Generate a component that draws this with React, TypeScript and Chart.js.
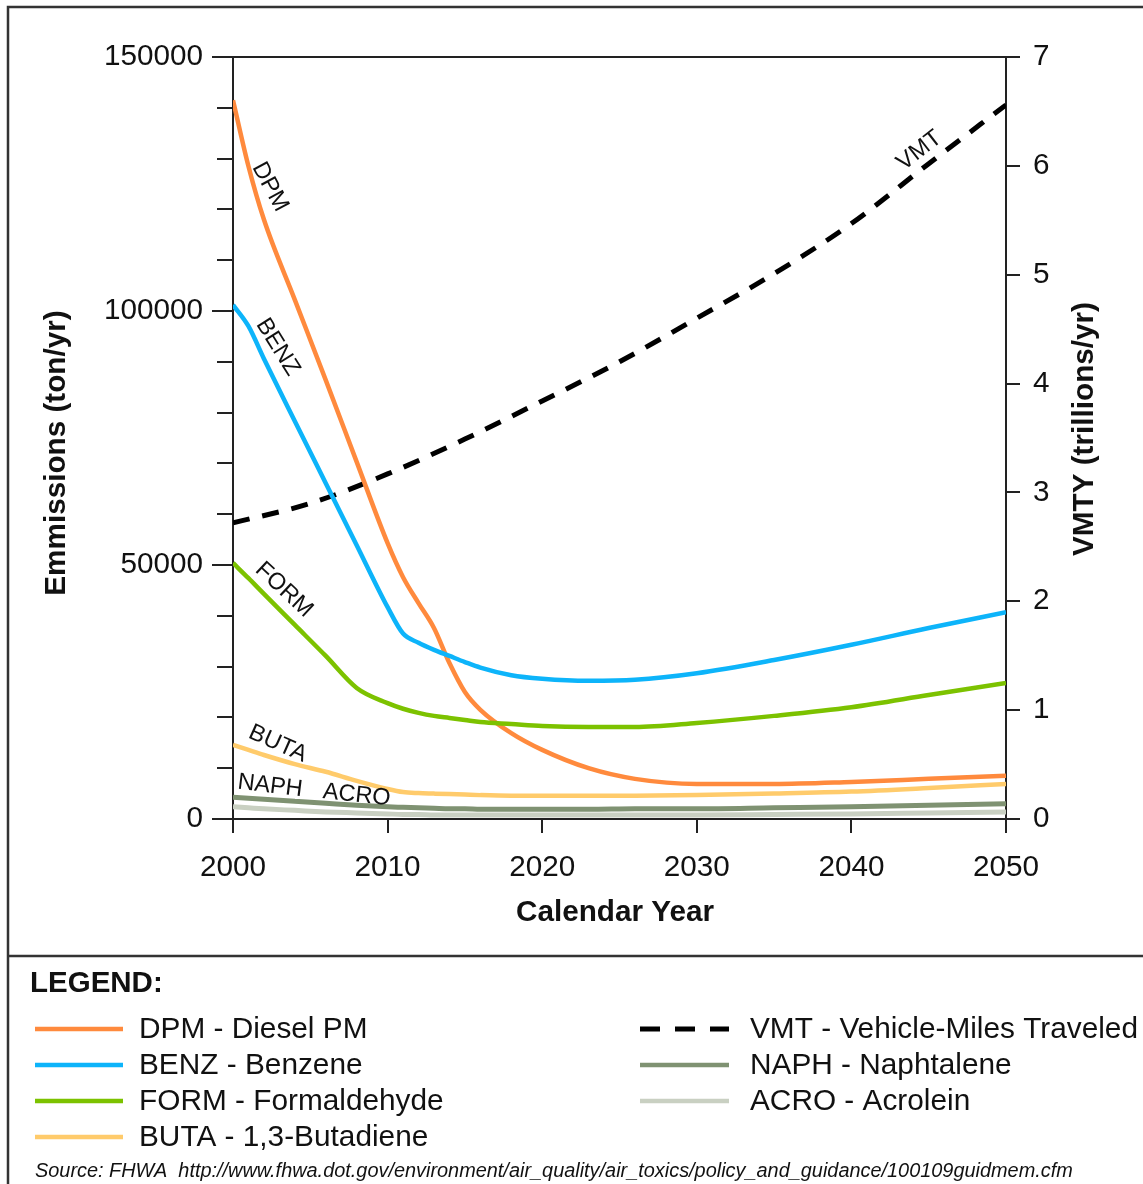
import React, { useEffect, useRef } from 'react';
import { Chart, registerables } from 'chart.js';

Chart.register(...registerables);

// ---------- DATA ----------
const years = [2000, 2001, 2002, 2004, 2006, 2008, 2010, 2011, 2012, 2013, 2014, 2015, 2016, 2018, 2020, 2023, 2026, 2030, 2035, 2040, 2045, 2050];

const dpm = [141500, 128500, 118000, 102200, 86400, 70300, 54300, 47600, 42500, 37600, 30700, 25000, 21500, 16900, 13600, 10000, 7900, 6900, 6900, 7300, 7900, 8500];
const benz = [101200, 97000, 90600, 78300, 66100, 53900, 41700, 36500, 34700, 33300, 32100, 30900, 29800, 28300, 27600, 27200, 27400, 28700, 31300, 34300, 37600, 40700];
const form = [50400, 47400, 44300, 38200, 32100, 25800, 22800, 21700, 20900, 20300, 19900, 19500, 19100, 18700, 18300, 18100, 18100, 18900, 20300, 22000, 24400, 26800];
const buta = [14600, 13600, 12600, 10800, 9300, 7500, 5900, 5300, 5100, 5000, 4900, 4800, 4700, 4600, 4600, 4600, 4600, 4700, 5000, 5400, 6100, 6900];
const naph = [4300, 4100, 3900, 3500, 3100, 2700, 2400, 2300, 2200, 2100, 2000, 2000, 1900, 1900, 1900, 1900, 2000, 2000, 2200, 2400, 2700, 3000];
const acro = [2400, 2200, 2000, 1700, 1400, 1200, 1000, 900, 900, 800, 800, 800, 800, 800, 800, 800, 800, 800, 900, 1000, 1200, 1400];

const vmtYears = [2000, 2005, 2010, 2015, 2020, 2025, 2030, 2035, 2040, 2045, 2050];
const vmt = [2.72, 2.9, 3.17, 3.49, 3.84, 4.2, 4.6, 5.01, 5.47, 6.02, 6.56];

const xTicks = [2000, 2010, 2020, 2030, 2040, 2050];
const leftMajorTicks = [0, 50000, 100000, 150000];

const seriesCodes = ['DPM', 'BENZ', 'FORM', 'BUTA', 'NAPH', 'ACRO', 'VMT'];
const seriesNames = ['Diesel PM', 'Benzene', 'Formaldehyde', '1,3-Butadiene', 'Naphtalene', 'Acrolein', 'Vehicle-Miles Traveled'];
const seriesColors = ['#FF8A3D', '#0DB4FA', '#7CC200', '#FFCB6B', '#7F9272', '#C9D0C2', '#000000'];

// in-plot label anchors (data units) and angles (deg)
const labelYears = [2002.4, 2002.9, 2003.3, 2002.9, 2002.4, 2008.0, 2044.4];
const labelValues = [124400, 92900, 45100, 14800, 6500, 4700, 6.14];
const labelAngles = [62, 58, 43, 24, 7, 6, -38];

const xTitle = 'Calendar Year';
const yTitle = 'Emmissions (ton/yr)';
const y2Title = 'VMTY (trillions/yr)';
const legendTitle = 'LEGEND:';
const sourceText = 'Source: FHWA  http://www.fhwa.dot.gov/environment/air_quality/air_toxics/policy_and_guidance/100109guidmem.cfm';

const FONT = '"Liberation Sans", Arial, Helvetica, sans-serif';

const decorPlugin = {
  id: 'decor',
  afterDraw(chart: any) {
    const ctx = chart.ctx as CanvasRenderingContext2D;
    const { left, right, top, bottom } = chart.chartArea;
    const ys = chart.scales.y;
    const ys2 = chart.scales.y2;
    const xs = chart.scales.x;
    ctx.save();
    // outer frame
    ctx.strokeStyle = '#333';
    ctx.lineWidth = 2.5;
    ctx.beginPath();
    ctx.moveTo(1143, 7);
    ctx.lineTo(8, 7);
    ctx.lineTo(8, 1184);
    ctx.moveTo(8, 956);
    ctx.lineTo(1143, 956);
    ctx.stroke();

    // top and bottom extended lines, major ticks
    ctx.strokeStyle = '#222';
    ctx.lineWidth = 2;
    ctx.beginPath();
    ctx.moveTo(left - 21, top);
    ctx.lineTo(right + 14, top);
    ctx.moveTo(left - 21, bottom);
    ctx.lineTo(right + 14, bottom);
    leftMajorTicks.forEach((v) => {
      const y = ys.getPixelForValue(v);
      ctx.moveTo(left - 21, y);
      ctx.lineTo(left, y);
    });
    ctx.stroke();

    // axis titles
    ctx.fillStyle = '#111';
    ctx.font = `bold 29.7px ${FONT}`;
    ctx.textAlign = 'center';
    ctx.textBaseline = 'middle';
    ctx.fillText(xTitle, 615, 913);
    ctx.save();
    ctx.translate(57, 453);
    ctx.rotate(-Math.PI / 2);
    ctx.fillText(yTitle, 0, 0);
    ctx.restore();
    ctx.save();
    ctx.translate(1085, 429);
    ctx.rotate(-Math.PI / 2);
    ctx.fillText(y2Title, 0, 0);
    ctx.restore();

    // in-plot labels
    ctx.font = `23.5px ${FONT}`;
    seriesCodes.forEach((code, i) => {
      const px = xs.getPixelForValue(labelYears[i]);
      const py = code === 'VMT' ? ys2.getPixelForValue(labelValues[i]) : ys.getPixelForValue(labelValues[i]);
      ctx.save();
      ctx.translate(px, py);
      ctx.rotate((labelAngles[i] * Math.PI) / 180);
      ctx.fillText(code, 0, 0);
      ctx.restore();
    });

    // legend
    ctx.textAlign = 'left';
    ctx.font = `bold 29.5px ${FONT}`;
    ctx.fillText(legendTitle, 30, 984);
    ctx.font = `29.8px ${FONT}`;
    const leftCol = [0, 1, 2, 3];
    const rightCol = [6, 4, 5];
    const rowY = [1029, 1065, 1101, 1137];
    const drawEntry = (i: number, lx1: number, lx2: number, tx: number, y: number) => {
      ctx.save();
      ctx.strokeStyle = seriesColors[i];
      ctx.lineWidth = i === 6 ? 5 : 4.5;
      if (i === 6) ctx.setLineDash([20, 15]);
      ctx.beginPath();
      ctx.moveTo(lx1, y);
      ctx.lineTo(lx2, y);
      ctx.stroke();
      ctx.restore();
      ctx.fillText(`${seriesCodes[i]} - ${seriesNames[i]}`, tx, y + 1);
    };
    leftCol.forEach((i, r) => drawEntry(i, 35, 123, 139, rowY[r]));
    rightCol.forEach((i, r) => drawEntry(i, 640, 729, 750, rowY[r]));

    // source
    ctx.font = `italic 19.9px ${FONT}`;
    ctx.fillText(sourceText, 35, 1171);
    ctx.restore();
  },
};

export default function App() {
  const ref = useRef<HTMLCanvasElement | null>(null);
  useEffect(() => {
    const canvas = ref.current;
    if (!canvas) return;
    const mk = (vals: number[], i: number) => ({
      label: seriesCodes[i],
      data: years.map((x, k) => ({ x, y: vals[k] })),
      borderColor: seriesColors[i],
      borderWidth: i >= 4 ? 5 : 4.5,
      pointRadius: 0,
      cubicInterpolationMode: 'monotone' as const,
      yAxisID: 'y',
      fill: false,
    });
    const datasets: any[] = [
      mk(acro, 5),
      mk(naph, 4),
      mk(buta, 3),
      mk(form, 2),
      mk(benz, 1),
      mk(dpm, 0),
      {
        label: 'VMT',
        data: vmtYears.map((x, k) => ({ x, y: vmt[k] })),
        borderColor: '#000',
        borderWidth: 5,
        borderDash: [17, 13],
        pointRadius: 0,
        cubicInterpolationMode: 'monotone',
        yAxisID: 'y2',
        fill: false,
      },
    ];
    const tickFont = { family: FONT, size: 29.7 };
    const chart = new Chart(canvas, {
      type: 'line',
      data: { datasets },
      options: {
        responsive: false,
        animation: false,
        devicePixelRatio: 1,
        layout: { padding: { top: 57, left: 0, right: 0, bottom: 0 } },
        plugins: { legend: { display: false }, tooltip: { enabled: false } },
        scales: {
          x: {
            type: 'linear',
            min: 2000,
            max: 2050,
            afterFit: (s: any) => { s.height = 365; },
            afterBuildTicks: (s: any) => { s.ticks = xTicks.map((v) => ({ value: v })); },
            ticks: { color: '#111', font: tickFont, padding: 17, maxRotation: 0, autoSkip: false, callback: (v: any) => String(v) },
            grid: { drawOnChartArea: false, drawTicks: true, tickLength: 14, tickColor: '#222', lineWidth: 2 },
            border: { display: true, color: '#222', width: 2 },
          },
          y: {
            type: 'linear',
            position: 'left',
            min: 0,
            max: 150000,
            afterFit: (s: any) => { s.width = 233; },
            ticks: {
              stepSize: 10000,
              autoSkip: false,
              color: '#111',
              font: tickFont,
              padding: 14,
              callback: (v: any) => (Number(v) % 50000 === 0 ? String(v) : ''),
            },
            grid: { drawOnChartArea: false, drawTicks: true, tickLength: 16, tickColor: '#222', lineWidth: 2 },
            border: { display: true, color: '#222', width: 2 },
          },
          y2: {
            type: 'linear',
            position: 'right',
            min: 0,
            max: 7,
            afterFit: (s: any) => { s.width = 137; },
            ticks: { stepSize: 1, autoSkip: false, color: '#111', font: tickFont, padding: 13, callback: (v: any) => String(v) },
            grid: { drawOnChartArea: false, drawTicks: true, tickLength: 14, tickColor: '#222', lineWidth: 2 },
            border: { display: true, color: '#222', width: 2 },
          },
        },
      },
      plugins: [decorPlugin],
    } as any);
    return () => chart.destroy();
  }, []);
  return (
    <div style={{ position: 'absolute', left: 0, top: 0, width: 1143, height: 1184, background: '#fff' }}>
      <canvas ref={ref} width={1143} height={1184} style={{ width: 1143, height: 1184, display: 'block' }} />
    </div>
  );
}
